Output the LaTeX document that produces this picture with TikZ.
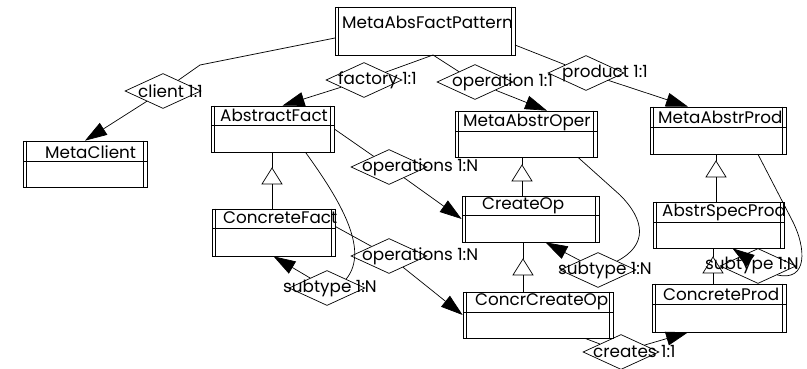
\documentclass[tikz,border=0pt]{standalone}
\usepackage{fontspec}
\setmainfont{Poppins}
\usetikzlibrary{shapes.geometric,arrows.meta}
\tikzset{
  classbox/.style={draw,fill=white,inner sep=0pt,line width=0.7pt},
  reldiam/.style={diamond,draw,fill=white,inner sep=0pt,minimum width=76pt,minimum height=35pt,line width=0.7pt},
  txt/.style={anchor=west,inner sep=0pt,font=\fontsize{16.8}{18}\selectfont},
  conn/.style={line width=0.7pt},
  arr/.style={line width=0.7pt,-{Triangle[length=22pt,width=14pt]}},
}
\newcommand\umlclass[9]{%
  \node[classbox,minimum width={#4-#2},minimum height={#5-#3}] (#1) at ({(#2+#4)/2},{(#3+#5)/2}) {};
  \draw[conn] ([xshift=4pt]#1.north west) -- ([xshift=4pt]#1.south west);
  \draw[conn] ([xshift=-4pt]#1.north east) -- ([xshift=-4pt]#1.south east);
  \draw[conn] (#2,#6) -- (#4,#6);
  \node[txt] (#1-t) at (#7,#8) {#9};
}
\newcommand\inh[5]{%
  \coordinate (#5) at (#1,#2);
  \draw[conn] (#5 |- #3.south) -- (#5);
  \draw[conn,fill=white] (#5) -- ++(-10,16) -- ++(20,0) -- cycle;
  \draw[conn] ([yshift=-16pt]#5) -- (#5 |- #4.north);
}
\begin{document}
\begin{tikzpicture}[x=1pt,y=-1pt]
\useasboundingbox (0,0) rectangle (807,369);

\coordinate (bendc) at (200,65);
\coordinate (pMAFPl) at (335,38);
\coordinate (pMAFPb) at (433,55);
\coordinate (pMAFPr) at (515,45);

% relationship diamonds
\node[reldiam] (client) at (163,91) {};
\node[reldiam] (factory) at (364,80) {};
\node[reldiam] (operation) at (475,82) {};
\node[reldiam] (product) at (586,73) {};
\node[reldiam] (opsA) at (389,167) {};
\node[reldiam] (opsB) at (389,256) {};
\node[reldiam] (subA) at (327,288) {};
\node[reldiam] (subB) at (598,270) {};
\node[reldiam] (subC) at (758,266) {};
\node[reldiam] (creates) at (621,352) {};

% classes
\umlclass{MAFP}{335}{7}{515}{55}{55}{342}{22}{MetaAbsFactPattern}
\umlclass{MC}{23}{141}{147}{187}{161}{45}{152}{MetaClient}
\umlclass{AF}{211}{106}{334}{152}{125}{220}{115}{AbstractFact}
\umlclass{CF}{212}{209}{335}{256}{228}{223}{218}{ConcreteFact}
\umlclass{MAO}{455}{111}{597}{157}{131}{463}{122}{MetaAbstrOper}
\umlclass{MAP}{650}{107}{786}{154}{127}{658}{117}{MetaAbstrProd}
\umlclass{CO}{462}{196}{599}{242}{215}{482}{206}{CreateOp}
\umlclass{CCO}{463}{292}{613}{338}{312}{475}{302}{ConcrCreateOp}
\umlclass{ASP}{653}{202}{784}{248}{222}{662}{212}{AbstrSpecProd}
\umlclass{CP}{652}{284}{786}{332}{304}{663}{294}{ConcreteProd}

% associations
\draw[conn] (pMAFPl) -- (bendc) -- (client);
\draw[arr] (client) -- (MC.north);
\draw[conn] (pMAFPb) -- (factory);
\draw[arr] (factory) -- ([xshift=10pt]AF.north);
\draw[conn] (pMAFPb) -- (operation);
\draw[arr] (operation) -- ([xshift=21pt]MAO.north);
\draw[conn] (pMAFPr) -- (product);
\draw[arr] (product) -- ([xshift=-30pt]MAP.north);
\draw[conn] (AF.east) -- (opsA);
\draw[arr] (opsA) -- (CO.west);
\draw[conn] ([yshift=6pt]CF.east) -- (opsB);
\draw[arr] (opsB) -- (CCO.west);
\draw[conn] ([xshift=33pt]AF.south) .. controls (340,200) and (370,250) .. (subA.north east);
\draw[arr] (subA) -- (CF.south);
\draw[conn] ([xshift=52pt]MAO.south) -- (620,195) .. controls (645,220) and (648,245) .. (subB.north east);
\draw[arr] (subB) -- ([xshift=15pt]CO.south);
\draw[conn] ([xshift=40pt]MAP.south) -- (793,222) .. controls (806,248) and (808,282) .. (subC.south east);
\draw[arr] (subC) -- ([xshift=14pt]ASP.south);
\draw[conn] ([xshift=47pt]CCO.south) -- (creates);
\draw[arr] (creates) -- ([xshift=-31pt]CP.south);

% inheritance
\inh{272}{168}{AF}{CF}{iA}
\inh{522}{165}{MAO}{CO}{iB}
\inh{523}{259}{CO}{CCO}{iC}
\inh{716}{161}{MAP}{ASP}{iD}
\inh{713}{257}{ASP}{CP}{iE}

% relationship labels
\node[txt] (client-t) at (138,91) {client 1:1};
\node[txt] (factory-t) at (338,80) {factory 1:1};
\node[txt] (operation-t) at (452,82) {operation 1:1};
\node[txt] (product-t) at (562,73) {product 1:1};
\node[txt] (opsA-t) at (362,167) {operations 1:N};
\node[txt] (opsB-t) at (362,256) {operations 1:N};
\node[txt] (subA-t) at (283,288) {subtype 1:N};
\node[txt] (subB-t) at (558,270) {subtype 1:N};
\node[txt] (subC-t) at (705,265) {subtype 1:N};
\node[txt] (creates-t) at (593,352) {creates 1:1};
\end{tikzpicture}
\end{document}
